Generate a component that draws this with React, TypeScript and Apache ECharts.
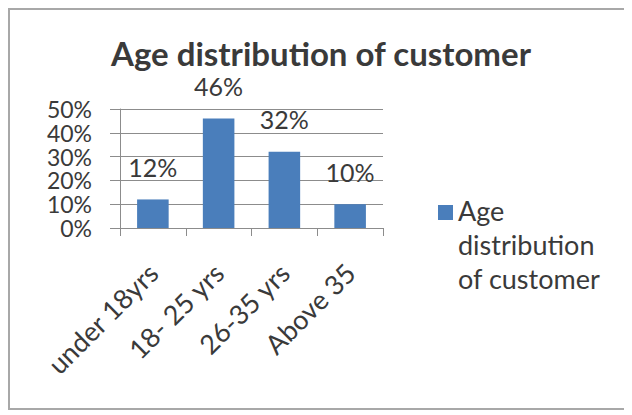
import React, { useEffect, useRef } from "react";
import * as echarts from "echarts";

const categories = ["under 18yrs", "18- 25 yrs", "26-35 yrs", "Above 35"];
const values = [12, 46, 32, 10];
const seriesName = "Age distribution of customer";
const titleText = "Age distribution of customer";

const FONT = "Lato, 'Open Sans', sans-serif";
const TEXT = "#3a3a3a";
const GRID = "#8c8c8c";

export default function App() {
  const ref = useRef<HTMLDivElement>(null);
  useEffect(() => {
    const chart = echarts.init(ref.current!, undefined, { renderer: "svg" });
    chart.setOption({
      animation: false,
      title: {
        text: titleText,
        left: 306,
        textAlign: "center",
        top: 21,
        textStyle: { fontFamily: FONT, fontSize: 33, fontWeight: "bold", color: TEXT },
      },
      legend: {
        data: [seriesName],
        left: 423,
        top: 178,
        orient: "vertical",
        itemWidth: 15,
        itemHeight: 102,
        icon: "path://M0,0h0.1v0.1h-0.1Z M0,12H15V27H0Z M0,101.9h0.1v0.1h-0.1Z",
        formatter: () => "Age\ndistribution\nof customer",
        textStyle: { fontFamily: FONT, fontSize: 27, color: TEXT, lineHeight: 34 },
        selectedMode: false,
      },
      grid: { left: 110, right: 245, top: 99, bottom: 180 },
      xAxis: {
        type: "category",
        data: categories,
        axisLine: { show: true, lineStyle: { color: GRID, width: 1 } },
        axisTick: { show: true, length: 8, alignWithLabel: false, lineStyle: { color: GRID } },
        axisLabel: {
          rotate: 45,
          margin: 40,
          interval: 0,
          fontFamily: FONT,
          fontSize: 27,
          color: TEXT,
        },
      },
      yAxis: {
        type: "value",
        min: 0,
        max: 50,
        interval: 10,
        axisLine: { show: true, lineStyle: { color: GRID, width: 1 } },
        axisTick: { show: true, length: 10, lineStyle: { color: GRID } },
        splitLine: { show: true, lineStyle: { color: GRID, width: 1 } },
        axisLabel: {
          formatter: "{value}%",
          margin: 28,
          interval: 0,
          fontFamily: FONT,
          fontSize: 23,
          lineHeight: 20,
          color: TEXT,
          showMinLabel: true,
          showMaxLabel: true,
          hideOverlap: false,
        },
      },
      series: [
        {
          name: seriesName,
          type: "bar",
          data: values,
          barWidth: "48%",
          itemStyle: { color: "#4a7ebb" },
          label: {
            show: true,
            position: "top",
            distance: 20,
            formatter: "{c}%",
            fontFamily: FONT,
            fontSize: 25,
            color: TEXT,
          },
        },
      ],
    });
    return () => chart.dispose();
  }, []);
  return (
    <div
      style={{
        width: 622,
        height: 402,
        border: "2px solid #a8a8a8",
        boxSizing: "border-box",
        background: "#fff",
      }}
    >
      <div ref={ref} style={{ width: 618, height: 398 }} />
    </div>
  );
}
